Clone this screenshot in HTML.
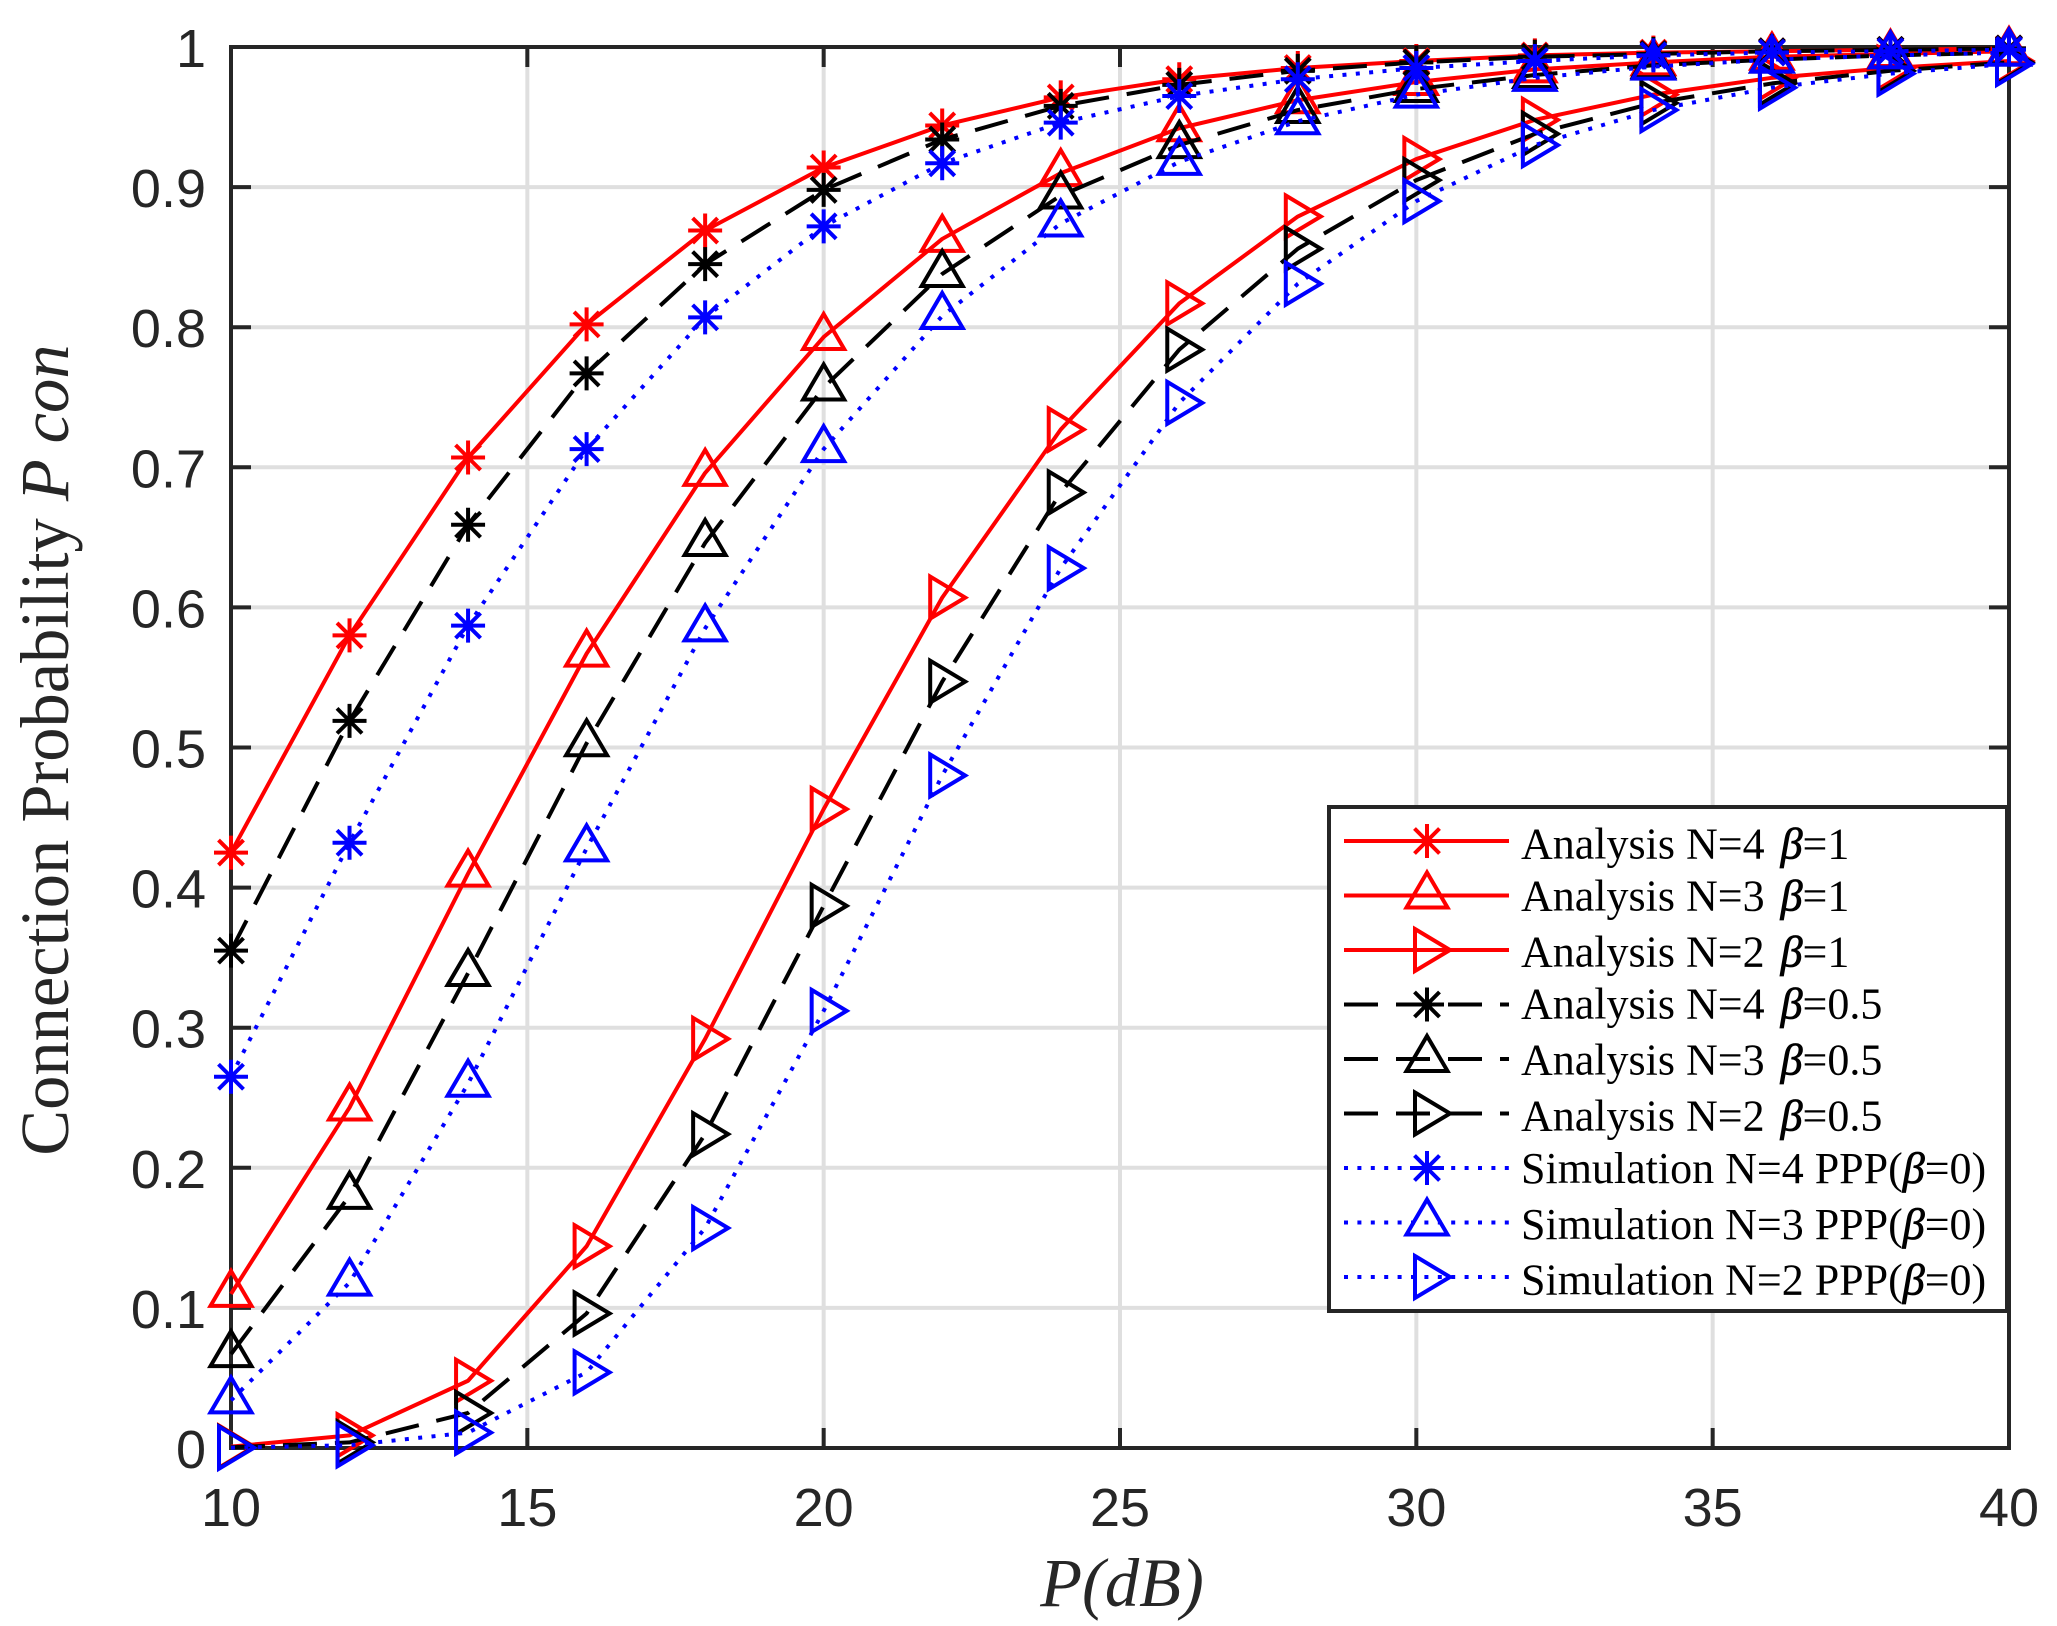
<!DOCTYPE html>
<html lang="en">
<head>
<meta charset="utf-8">
<title>Connection Probability vs P(dB)</title>
<style>
  html, body { margin: 0; padding: 0; background: #fff; }
  svg { display: block; }
  .tick-label { font-family: "Liberation Sans", Arial, sans-serif; font-size: 54px; fill: #262626; }
  .axis-title { font-family: "Liberation Serif", "Times New Roman", serif; font-size: 68.5px; fill: #262626; }
  .legend-text { font-family: "Liberation Serif", "Times New Roman", serif; font-size: 44px; fill: #000; }
  .beta { font-style: italic; stroke: #000; stroke-width: 0.8px; }
</style>
</head>
<body>
<svg id="chart" xmlns="http://www.w3.org/2000/svg" width="2057" height="1626" viewBox="0 0 2057 1626">
  <rect x="0" y="0" width="2057" height="1626" fill="#ffffff"/>
  <g id="grid"></g>
  <g id="ticks"></g>
  <rect x="231" y="47" width="1778" height="1401" fill="none" stroke="#262626" stroke-width="4"/>
  <g id="tick-labels"></g>
  <g id="series"></g>

  <text class="axis-title" x="1122" y="1606" text-anchor="middle" font-style="italic">P(dB)</text>
  <text class="axis-title" transform="translate(68,750) rotate(-90)" text-anchor="middle">Connection Probability <tspan font-style="italic">P con</tspan></text>

  <g>
    <rect x="1329" y="807" width="678" height="504" fill="#ffffff" stroke="#262626" stroke-width="4"/>
    <g id="legend-glyphs"></g>
    <text class="legend-text" x="1521" y="858.5">Analysis N=4 <tspan class="beta" dx="5">β</tspan>=1</text>
    <text class="legend-text" x="1521" y="910.5">Analysis N=3 <tspan class="beta" dx="5">β</tspan>=1</text>
    <text class="legend-text" x="1521" y="966.5">Analysis N=2 <tspan class="beta" dx="5">β</tspan>=1</text>
    <text class="legend-text" x="1521" y="1018.5">Analysis N=4 <tspan class="beta" dx="5">β</tspan>=0.5</text>
    <text class="legend-text" x="1521" y="1074.5">Analysis N=3 <tspan class="beta" dx="5">β</tspan>=0.5</text>
    <text class="legend-text" x="1521" y="1130.5">Analysis N=2 <tspan class="beta" dx="5">β</tspan>=0.5</text>
    <text class="legend-text" x="1521" y="1183">Simulation N=4 PPP(<tspan class="beta">β</tspan>=0)</text>
    <text class="legend-text" x="1521" y="1239">Simulation N=3 PPP(<tspan class="beta">β</tspan>=0)</text>
    <text class="legend-text" x="1521" y="1294.5">Simulation N=2 PPP(<tspan class="beta">β</tspan>=0)</text>
  </g>
</svg>

<script>
// Data
const powerDb = [10, 12, 14, 16, 18, 20, 22, 24, 26, 28, 30, 32, 34, 36, 38, 40];
const xTickValues = [10, 15, 20, 25, 30, 35, 40];
const yTickValues = [0, 0.1, 0.2, 0.3, 0.4, 0.5, 0.6, 0.7, 0.8, 0.9, 1];
const yTickLabels = ['0', '0.1', '0.2', '0.3', '0.4', '0.5', '0.6', '0.7', '0.8', '0.9', '1'];

const analysisN4Beta1 = [0.425, 0.580, 0.707, 0.802, 0.869, 0.914, 0.944, 0.964, 0.977, 0.985, 0.990, 0.994, 0.996, 0.997, 0.998, 0.999];
const analysisN3Beta1 = [0.110, 0.243, 0.410, 0.567, 0.696, 0.793, 0.863, 0.910, 0.942, 0.962, 0.975, 0.984, 0.989, 0.993, 0.995, 0.997];
const analysisN2Beta1 = [0.001, 0.009, 0.048, 0.144, 0.292, 0.456, 0.607, 0.727, 0.817, 0.879, 0.920, 0.948, 0.966, 0.978, 0.985, 0.990];
const analysisN4Beta05 = [0.355, 0.519, 0.659, 0.767, 0.845, 0.898, 0.934, 0.958, 0.973, 0.983, 0.989, 0.993, 0.995, 0.997, 0.998, 0.999];
const analysisN3Beta05 = [0.067, 0.180, 0.339, 0.503, 0.646, 0.757, 0.838, 0.894, 0.930, 0.955, 0.970, 0.980, 0.987, 0.991, 0.994, 0.996];
const analysisN2Beta05 = [0.0005, 0.004, 0.025, 0.096, 0.224, 0.387, 0.547, 0.682, 0.784, 0.856, 0.905, 0.938, 0.960, 0.974, 0.983, 0.989];
const simulationN4 = [0.265, 0.432, 0.587, 0.713, 0.807, 0.872, 0.917, 0.946, 0.965, 0.977, 0.985, 0.990, 0.994, 0.996, 0.997, 0.998];
const simulationN3 = [0.034, 0.118, 0.260, 0.428, 0.585, 0.713, 0.808, 0.874, 0.918, 0.947, 0.966, 0.978, 0.986, 0.991, 0.994, 0.996];
const simulationN2 = [0.0002, 0.002, 0.011, 0.054, 0.157, 0.312, 0.480, 0.628, 0.746, 0.831, 0.890, 0.930, 0.955, 0.971, 0.981, 0.988];

const seriesList = [
  { name: 'analysis-n4-beta1', values: analysisN4Beta1, color: '#ff0000', dash: '', marker: 'star' },
  { name: 'analysis-n3-beta1', values: analysisN3Beta1, color: '#ff0000', dash: '', marker: 'up' },
  { name: 'analysis-n2-beta1', values: analysisN2Beta1, color: '#ff0000', dash: '', marker: 'right' },
  { name: 'analysis-n4-beta05', values: analysisN4Beta05, color: '#000000', dash: '34 18', marker: 'star' },
  { name: 'analysis-n3-beta05', values: analysisN3Beta05, color: '#000000', dash: '34 18', marker: 'up' },
  { name: 'analysis-n2-beta05', values: analysisN2Beta05, color: '#000000', dash: '34 18', marker: 'right' },
  { name: 'simulation-n4', values: simulationN4, color: '#0000ff', dash: '4 9.4', marker: 'star' },
  { name: 'simulation-n3', values: simulationN3, color: '#0000ff', dash: '4 9.4', marker: 'up' },
  { name: 'simulation-n2', values: simulationN2, color: '#0000ff', dash: '4 9.4', marker: 'right' }
];

// Axis functions
const plotLeft = 231, plotRight = 2009, plotTop = 47, plotBottom = 1448;
const xMin = 10, xMax = 40, yMin = 0, yMax = 1;
function xScale(v) { return plotLeft + (v - xMin) / (xMax - xMin) * (plotRight - plotLeft); }
function yScale(v) { return plotBottom - (v - yMin) / (yMax - yMin) * (plotBottom - plotTop); }

const NS = 'http://www.w3.org/2000/svg';
function make(tag, parent, attrs) {
  const el = document.createElementNS(NS, tag);
  for (const k in attrs) el.setAttribute(k, attrs[k]);
  parent.appendChild(el);
  return el;
}

function drawMarker(kind, parent, cx, cy, color) {
  const g = make('g', parent, { fill: 'none', stroke: color, 'stroke-width': 4, 'stroke-linejoin': 'miter' });
  
  
  if (kind === 'star') {
    const d = 'M' + cx + ' ' + (cy - 17) + 'V' + (cy + 17) +
      'M' + (cx - 17) + ' ' + cy + 'H' + (cx + 17) +
      'M' + (cx - 12.5) + ' ' + (cy - 12.5) + 'L' + (cx + 12.5) + ' ' + (cy + 12.5) +
      'M' + (cx - 12.5) + ' ' + (cy + 12.5) + 'L' + (cx + 12.5) + ' ' + (cy - 12.5);
    make('path', g, { d: d });
  } else if (kind === 'up') {
    const pts = [cx + ',' + (cy - 23), (cx + 20.5) + ',' + (cy + 12), (cx - 20.5) + ',' + (cy + 12)];
    make('polygon', g, { points: pts.join(' ') });
  } else {
    const pts = [(cx - 12) + ',' + (cy - 21), (cx + 23) + ',' + cy, (cx - 12) + ',' + (cy + 21)];
    make('polygon', g, { points: pts.join(' ') });
  }
}

// Grid and ticks
const gridGroup = document.getElementById('grid');
const tickGroup = document.getElementById('ticks');
const labelGroup = document.getElementById('tick-labels');

xTickValues.forEach(function (v) {
  const x = xScale(v);
  if (v !== xMin && v !== xMax) {
    const gl = make('line', gridGroup, { x1: x, x2: x, y1: plotTop, y2: plotBottom, stroke: '#dfdfdf', 'stroke-width': 4 });
    
    
    const t1 = make('line', tickGroup, { x1: x, x2: x, y1: plotBottom, y2: plotBottom - 20, stroke: '#262626', 'stroke-width': 4 });
    
    
    const t2 = make('line', tickGroup, { x1: x, x2: x, y1: plotTop, y2: plotTop + 20, stroke: '#262626', 'stroke-width': 4 });
    
    
  }
  const lab = make('text', labelGroup, { x: x, y: 1526, 'text-anchor': 'middle', class: 'tick-label' });
  
  
  lab.textContent = String(v);
});

yTickValues.forEach(function (v, i) {
  const y = yScale(v);
  if (v !== yMin && v !== yMax) {
    const gl = make('line', gridGroup, { x1: plotLeft, x2: plotRight, y1: y, y2: y, stroke: '#dfdfdf', 'stroke-width': 4 });
    
    
    const t1 = make('line', tickGroup, { x1: plotLeft, x2: plotLeft + 20, y1: y, y2: y, stroke: '#262626', 'stroke-width': 4 });
    
    
    const t2 = make('line', tickGroup, { x1: plotRight, x2: plotRight - 20, y1: y, y2: y, stroke: '#262626', 'stroke-width': 4 });
    
    
  }
  const lab = make('text', labelGroup, { x: 206, y: y + 20, 'text-anchor': 'end', class: 'tick-label' });
  
  
  lab.textContent = yTickLabels[i];
});

// Series
const seriesGroup = document.getElementById('series');
seriesList.forEach(function (s) {
  const g = make('g', seriesGroup, {});
  
  
  const pts = s.values.map(function (v, i) { return xScale(powerDb[i]) + ',' + yScale(v); });
  const attrs = { points: pts.join(' '), fill: 'none', stroke: s.color, 'stroke-width': 4, 'stroke-linejoin': 'round' };
  if (s.dash) attrs['stroke-dasharray'] = s.dash;
  const line = make('polyline', g, attrs);
  
  
  s.values.forEach(function (v, i) {
    drawMarker(s.marker, g, xScale(powerDb[i]), yScale(v), s.color);
  });
});

// Legend glyphs
const legendGroup = document.getElementById('legend-glyphs');
seriesList.forEach(function (s, i) {
  const rowY = 841 + i * 54.5;
  const g = make('g', legendGroup, {});
  
  
  const attrs = { x1: 1344, x2: 1509, y1: rowY, y2: rowY, stroke: s.color, 'stroke-width': 4 };
  if (s.dash) attrs['stroke-dasharray'] = s.dash;
  const l = make('line', g, attrs);
  
  
  drawMarker(s.marker, g, 1427, rowY, s.color);
});
</script>
</body>
</html>
